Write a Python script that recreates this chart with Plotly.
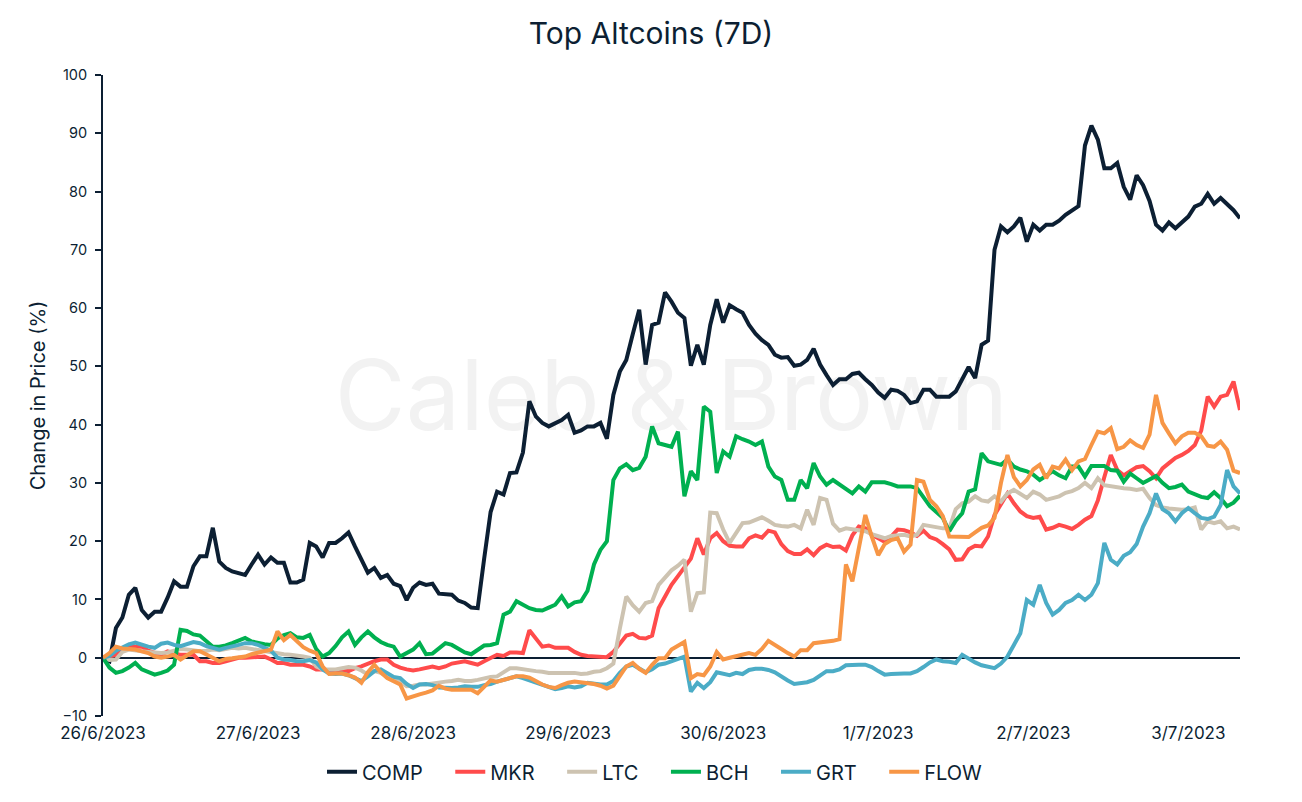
import plotly.graph_objects as go
import pandas as pd

# Hourly time axis: 26/6/2023 00:00 -> 3/7/2023 08:00
times = pd.date_range("2023-06-26 00:00", periods=177, freq="h")

tick_dates = ["2023-06-26", "2023-06-27", "2023-06-28", "2023-06-29",
              "2023-06-30", "2023-07-01", "2023-07-02", "2023-07-03"]
tick_labels = ["26/6/2023", "27/6/2023", "28/6/2023", "29/6/2023",
               "30/6/2023", "1/7/2023", "2/7/2023", "3/7/2023"]

comp = [0, -0.6, 5.1, 6.9, 10.8, 12, 8.2, 6.9, 7.9, 7.9, 10.3, 13.1, 12.2, 12.2, 15.7, 17.4, 17.4, 22.3, 16.5, 15.4, 14.8, 14.5, 14.2, 16,
        17.7, 16, 17.2, 16.3, 16.3, 12.9, 12.9, 13.4, 19.7, 19.1, 17.2, 19.7, 19.7, 20.5, 21.5, 19.1, 16.8, 14.6, 15.4, 13.7, 14.2, 12.7, 12.3, 9.9,
        12, 12.9, 12.5, 12.7, 11, 10.9, 10.8, 9.8, 9.4, 8.6, 8.5, 17, 25, 28.5, 28, 31.7, 31.8, 35.2, 44, 41.4, 40.3, 39.7, 40.2, 40.8,
        41.7, 38.6, 39, 39.7, 39.7, 40.3, 37.6, 45.1, 49.1, 51.1, 55.5, 59.7, 50.3, 57.1, 57.5, 62.7, 61.1, 59.2, 58.3, 50.1, 53.7, 50.3, 57.1, 61.5,
        57.5, 60.5, 59.8, 59.2, 57.1, 55.6, 54.5, 53.7, 52, 51.5, 51.6, 50.1, 50.3, 51.1, 53, 50.3, 48.5, 46.8, 47.8, 47.8, 48.7, 48.9, 47.8, 46.8,
        45.5, 44.6, 46, 45.8, 45.1, 43.7, 44, 46, 46, 44.8, 44.8, 44.8, 45.7, 47.7, 49.9, 48, 53.7, 54.4, 70, 74, 73, 74, 75.5, 71.4,
        74.3, 73.3, 74.3, 74.3, 75, 76, 76.8, 77.5, 87.9, 91.3, 88.9, 84, 84, 84.9, 80.8, 78.6, 82.8, 81.1, 78.4, 74.3, 73.3, 74.7, 73.7, 74.7,
        75.7, 77.4, 77.9, 79.6, 77.9, 78.9, 77.9, 76.8, 75.4]

mkr = [0, 0.2, 0.5, 1.2, 2.2, 1.9, 1.9, 1.2, 0.8, 0.5, 1.1, 0.8, 0.5, 0.5, 0.5, -0.6, -0.6, -0.9, -0.9, -0.6, -0.3, 0, 0, 0.1,
       0.2, 0.2, -0.3, -0.9, -0.9, -1.2, -1.2, -1.2, -1.5, -2, -2, -2.3, -2.3, -2.1, -2.3, -1.8, -1.5, -1, -0.6, -0.3, -0.3, -1.2, -1.7, -2,
       -2.2, -2, -1.7, -1.5, -1.8, -1.5, -1, -0.8, -0.6, -0.9, -1.2, -0.6, 0, 0.5, 0.3, 0.9, 0.9, 0.8, 4.7, 3.4, 1.9, 2.1, 1.7, 1.7,
       1.7, 1, 0.5, 0.3, 0.2, 0.1, 0.1, 1, 2.5, 3.8, 4.1, 3.4, 3.3, 3.8, 8.5, 10.5, 12.5, 14, 15.5, 17, 20.5, 17.7, 20.5, 21.4,
       20, 19.2, 19.1, 19.1, 20.5, 21, 20.6, 21.8, 21.5, 19.5, 18.3, 17.8, 17.8, 18.6, 17.6, 18.8, 19.4, 19, 19.1, 18.4, 21, 22.5, 22.2, 21.1,
       20.5, 19.9, 20.8, 22, 21.9, 21.5, 20.9, 21.8, 20.7, 20.3, 19.5, 18.6, 16.8, 16.9, 18.6, 19.2, 19.1, 20.8, 24.5, 26.5, 28.2, 26.5, 25.1, 24.3,
       24, 24.2, 22, 22.3, 22.8, 22.5, 22.1, 22.8, 23.7, 24.3, 27, 31, 34.8, 32.2, 31.3, 32, 32.7, 32.9, 32, 30.8, 32.5, 33.4, 34.3, 34.8,
       35.5, 36.5, 39, 44.8, 43.1, 44.8, 45.1, 47.4, 42.5]

ltc = [0, -0.4, -0.3, 1, 1.4, 1.2, 1.1, 1, 0.9, 0.8, 0.9, 1.2, 1.5, 1.4, 1.2, 1.1, 1.2, 1.4, 1.3, 1.5, 1.7, 1.6, 1.7, 1.5,
       1.3, 1.1, 0.9, 0.8, 0.6, 0.5, 0.4, 0.2, 0, -1.5, -2, -2, -2, -1.8, -1.6, -1.7, -2.2, -2.9, -2.3, -2.6, -3.2, -3.8, -4.1, -4.9,
       -4.8, -4.6, -4.6, -4.4, -4.3, -4.1, -4, -3.8, -4, -4, -3.8, -3.5, -3.3, -3.2, -2.5, -1.8, -1.8, -2, -2.1, -2.3, -2.4, -2.6, -2.6, -2.6,
       -2.6, -2.6, -2.8, -2.7, -2.4, -2.3, -1.8, -1, 5, 10.5, 9, 7.9, 9.4, 9.7, 12.5, 13.8, 15, 15.8, 16.8, 7.9, 11.1, 11.2, 24.9, 24.8,
       22, 19.7, 21.5, 23.1, 23.2, 23.7, 24.1, 23.5, 22.8, 22.6, 22.5, 22.8, 22.2, 25.4, 22.8, 27.4, 27.1, 23, 21.8, 22.2, 22, 21.9, 21.7, 21.2,
       20.8, 20.5, 20.9, 21, 21.1, 20.8, 21.1, 22.8, 22.6, 22.5, 22.2, 22.2, 25.5, 26.5, 26.8, 27.7, 27, 26.8, 27.7, 26.8, 28.2, 28.8, 28, 27.4,
       28.5, 28, 27.1, 27.4, 27.7, 28.3, 28.6, 29.1, 30, 29.1, 30.8, 29.6, 29.4, 29.3, 29.1, 29, 28.8, 29, 27.4, 26.2, 25.8, 25.6, 25.5, 25.4,
       25.5, 25.8, 22, 23.4, 23.1, 23.4, 22.2, 22.5, 22]

bch = [0, -1.7, -2.6, -2.3, -1.7, -0.9, -2, -2.4, -2.9, -2.6, -2.2, -1.2, 4.8, 4.6, 4, 3.8, 2.8, 1.9, 1.9, 2.1, 2.5, 3, 3.4, 2.8,
       2.5, 2.3, 2.2, 3.3, 3.9, 4.2, 3.5, 3.4, 3.9, 1.5, 0.2, 0.8, 2, 3.5, 4.5, 2.2, 3.5, 4.5, 3.5, 2.7, 2.2, 1.9, 0.2, 0.8,
       1.4, 2.5, 0.6, 0.7, 1.5, 2.5, 2.2, 1.6, 0.9, 0.6, 1.4, 2.1, 2.2, 2.5, 7.4, 7.9, 9.7, 9.1, 8.5, 8.2, 8.1, 8.6, 9.1, 10.5,
       8.8, 9.5, 9.7, 11.5, 16, 18.5, 20, 30.5, 32.5, 33.2, 32.2, 32.6, 34.5, 39.7, 36.8, 36.5, 36.2, 38.8, 27.7, 32, 30.5, 43.1, 42.2, 31.7,
       35.4, 34.5, 38, 37.5, 37.1, 36.5, 37.1, 32.8, 31.1, 30.5, 27.1, 27.1, 30.5, 29.1, 33.4, 31.1, 29.7, 30.5, 29.7, 29, 28.2, 29.4, 28.5, 30.1,
       30.1, 30.1, 29.8, 29.4, 29.4, 29.4, 29.1, 27.5, 26, 25, 24, 21.7, 23.5, 24.8, 28.5, 28.9, 35.1, 33.7, 33.4, 33.1, 34, 32.8, 32.3, 32,
       31.4, 30.5, 31.2, 32, 31.3, 30.8, 32.8, 32.8, 31.1, 32.9, 32.9, 32.9, 32.2, 32.1, 30.2, 31.6, 30.8, 30, 30.6, 31.2, 30, 29.1, 29.3, 29.7,
       28.5, 28, 27.6, 27.4, 28.4, 27.4, 26, 26.6, 27.8]

grt = [0, 0.3, 1.2, 1.8, 2.3, 2.6, 2.2, 1.9, 1.7, 2.4, 2.6, 2.2, 2, 2.4, 2.7, 2.5, 2, 1.7, 1.4, 1.7, 1.9, 2.2, 2.5, 2.5,
       2.2, 1.7, 1.2, 0, -0.3, -0.4, -0.6, -0.6, -0.4, -0.8, -2, -2.7, -2.8, -2.7, -3, -3.5, -4, -3.2, -2.3, -2, -2.6, -3.3, -3.5, -4.5,
       -5.2, -4.6, -4.5, -4.7, -5.1, -5.2, -5.2, -5.1, -4.9, -5, -5, -4.7, -4.5, -4.1, -3.8, -3.4, -3.2, -3.5, -3.9, -4.3, -4.6, -5, -5.4, -5.2,
       -4.9, -5.1, -4.9, -4.3, -4.5, -4.6, -4.6, -4, -2.6, -1.5, -1.2, -1.9, -2.5, -2, -1.2, -1, -0.6, -0.3, 0.2, -5.8, -4.3, -5.2, -4.2, -2.5,
       -2.7, -3, -2.6, -2.8, -2.1, -1.9, -1.9, -2.1, -2.5, -3.3, -3.9, -4.5, -4.4, -4.2, -3.8, -3.1, -2.3, -2.3, -2, -1.3, -1.2, -1.2, -1.2, -1.6,
       -2.3, -2.9, -2.8, -2.7, -2.7, -2.7, -2.3, -1.6, -0.8, -0.3, -0.6, -0.7, -0.9, 0.5, -0.2, -0.8, -1.3, -1.6, -1.8, -1, 0.2, 2.2, 4.2, 9.9,
       9.1, 12.5, 9.4, 7.4, 8.2, 9.4, 9.9, 10.8, 9.9, 10.8, 12.8, 19.7, 16.8, 16, 17.5, 18.1, 19.5, 22.5, 24.8, 28.2, 25.5, 24.8, 23.4, 24.8,
       25.7, 24.8, 24, 23.8, 24.2, 26.2, 32.2, 29.4, 28.2]

flow = [0, 0.8, 1.9, 1.6, 1.5, 1.4, 1.1, 0.8, 0.2, 0, 0.2, 0.5, -0.3, 0.4, 1.1, 1.1, 0.6, 0, -0.6, -0.2, -0.1, 0, 0.2, 0.6,
        0.9, 1.1, 1.4, 4.5, 3, 3.9, 2.8, 1.8, 1.2, 0.8, -1.5, -2.8, -2.7, -2.7, -3, -3.4, -4.3, -2.5, -1.2, -2.5, -3.5, -4.1, -4.6, -7,
        -6.6, -6.3, -6, -5.6, -4.8, -5.3, -5.5, -5.5, -5.4, -5.5, -6.1, -5, -3.9, -4.1, -3.8, -3.5, -3.2, -3.2, -3.4, -4, -4.6, -5, -5.2, -4.7,
        -4.3, -4.1, -4.2, -4.3, -4.5, -4.8, -5.3, -4.8, -3, -1.5, -0.9, -1.9, -2.6, -1.2, -0.1, -0.1, 1.4, 2, 2.7, -3.5, -2.8, -3, -1.5, 1,
        -0.3, 0, 0.3, 0.5, 0.8, 0.5, 1.5, 2.9, 2.1, 1.5, 0.8, 0.2, 1.3, 1.3, 2.5, 2.6, 2.7, 2.9, 3.2, 16, 13.1, 18.5, 24.5, 20.8,
        17.6, 19.5, 20.2, 20.5, 18.2, 19.4, 30.5, 30.2, 27.1, 26, 24.3, 20.8, 20.8, 20.8, 20.7, 21.5, 22.3, 22.7, 24, 30, 34.8, 31, 29.4, 30.5,
        32.3, 33.1, 30.8, 32.8, 32.5, 34, 32.2, 33.7, 34.1, 36.5, 38.8, 38.5, 39.4, 35.8, 36.2, 37.3, 36.5, 36, 38.3, 45.1, 40.3, 38.5, 36.8, 38,
        38.6, 38.6, 38, 36.4, 36.2, 37.1, 35.7, 32.1, 31.7]

series_names = ["COMP", "MKR", "LTC", "BCH", "GRT", "FLOW"]
series_values = [comp, mkr, ltc, bch, grt, flow]
series_colors = ["#0c1f33", "#ff4b4b", "#cdc3b1", "#00b050", "#4bacc6", "#f79646"]

TEXT = "#0c1f33"
FONT = "Inter, Lato, sans-serif"
GAP = "\u00a0\u00a0\u00a0\u00a0"   # extra spacing between legend entries

# figure size accounts for the page's default 8px body margin
FIG_W, FIG_H = 1286, 786

fig = go.Figure()

# watermark (behind the lines)
fig.add_trace(go.Scatter(
    x=[pd.Timestamp("2023-06-29 16:00")], y=[43.2], mode="text",
    text=["Caleb & Brown"],
    textfont=dict(size=97, color="#f2f2f2", family=FONT),
    showlegend=False, hoverinfo="skip"))

for i, (name, vals, color) in enumerate(zip(series_names, series_values, series_colors)):
    label = name + (GAP if i < len(series_names) - 1 else "")
    fig.add_trace(go.Scatter(
        x=times, y=vals, mode="lines", name=label,
        line=dict(color=color, width=4)))

fig.update_layout(
    width=FIG_W, height=FIG_H,
    paper_bgcolor="white", plot_bgcolor="white",
    margin=dict(l=95, r=54, t=67, b=78, autoexpand=False),
    font=dict(family=FONT, color=TEXT, size=14),
    title=dict(text="Top Altcoins (7D)", x=0.5, xanchor="center",
               y=1 - 25 / FIG_H, yanchor="middle",
               font=dict(size=30, color=TEXT, family=FONT)),
    legend=dict(orientation="h", x=0.4855, xanchor="center",
                y=-0.087, yanchor="middle",
                font=dict(size=20, color=TEXT, family=FONT),
                itemwidth=30, traceorder="normal"),
    xaxis=dict(type="date", range=[times[0], times[-1]],
               showgrid=False, showline=False, zeroline=False,
               tickvals=tick_dates, ticktext=tick_labels,
               ticks="", ticklabelstandoff=5,
               tickfont=dict(size=17, color=TEXT)),
    yaxis=dict(range=[-10, 100], dtick=10, tick0=0,
               showgrid=False, showline=True, linecolor=TEXT, linewidth=2,
               ticks="outside", ticklen=6, tickwidth=2, tickcolor=TEXT,
               ticklabelstandoff=5,
               zeroline=True, zerolinecolor=TEXT, zerolinewidth=1.5,
               tickfont=dict(size=14.5, color=TEXT),
               title=dict(text="Change in Price (%)", standoff=11,
                          font=dict(size=20, color=TEXT))),
)

fig.write_html("out.html")
